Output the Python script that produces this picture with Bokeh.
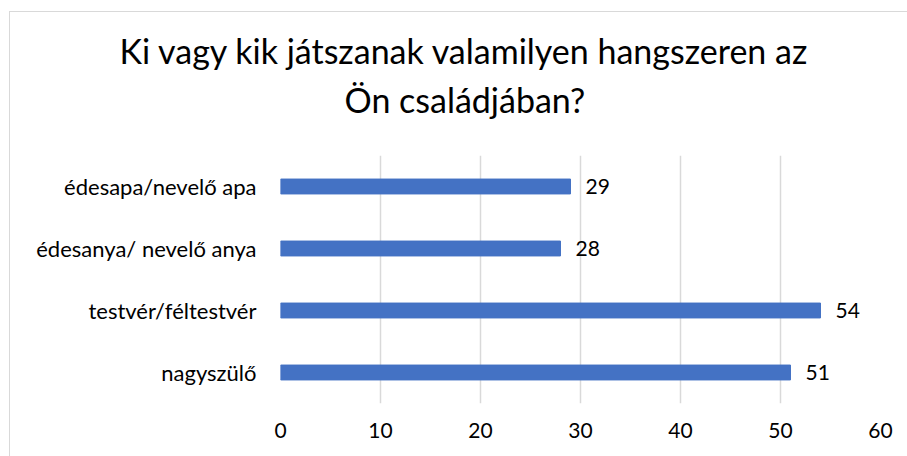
from bokeh.plotting import figure
from bokeh.models import ColumnDataSource, FactorRange, Range1d, LabelSet, Title, FixedTicker
from bokeh.core.properties import value
from bokeh.embed import file_html
from bokeh.resources import INLINE

categories = ["édesapa/nevelő apa", "édesanya/ nevelő anya", "testvér/féltestvér", "nagyszülő"]
values = [29, 28, 54, 51]
x_ticks = [0, 10, 20, 30, 40, 50, 60]
title_lines = ["Ki vagy kik játszanak valamilyen hangszeren az", "Ön családjában?"]

FONT = "Lato"
BAR = "#4472C4"
GRID = "#d9d9d9"
TXT = "#000000"

src = ColumnDataSource(dict(cat=categories, val=values, lab=[str(v) for v in values]))

p = figure(
    y_range=FactorRange(factors=list(reversed(categories)), range_padding=0),
    x_range=Range1d(0, 60),
    frame_width=600, frame_height=248,
    min_border_left=280, min_border_right=27, min_border_top=155, min_border_bottom=53,
    output_backend="svg", toolbar_location=None,
)
# chart-area border (only its left and top edges fall inside the window)
p.styles = {
    "background-color": "white",
    "background-image": "linear-gradient(#d9d9d9, #d9d9d9), linear-gradient(#d9d9d9, #d9d9d9)",
    "background-size": "1px 100%, 100% 1px",
    "background-position": "9px 11px, 9px 11px",
    "background-repeat": "no-repeat",
}
p.outline_line_color = None
p.background_fill_color = "white"
p.border_fill_color = None
p.border_fill_alpha = 0

p.hbar(y="cat", right="val", left=0, height=0.24, source=src, fill_color=BAR, line_color=BAR)

labels = LabelSet(x="val", y="cat", text="lab", source=src, x_offset=15,
                  text_baseline="middle", text_align="left",
                  text_font=value(FONT), text_font_size=value("21px"), text_color=value(TXT))
p.add_layout(labels)

p.xaxis.ticker = FixedTicker(ticks=x_ticks)
p.xaxis.axis_line_color = None
p.xaxis.major_tick_line_color = None
p.xaxis.minor_tick_line_color = None
p.xaxis.major_label_standoff = 13
p.xaxis.major_label_text_font = FONT
p.xaxis.major_label_text_font_size = "21px"
p.xaxis.major_label_text_color = TXT

p.yaxis.axis_line_color = None
p.yaxis.major_tick_line_color = None
p.yaxis.major_label_standoff = 18
p.yaxis.major_label_text_font = FONT
p.yaxis.major_label_text_font_size = "22px"
p.yaxis.major_label_text_color = TXT

p.xgrid.grid_line_color = GRID
p.xgrid.grid_line_width = 1.5
p.ygrid.grid_line_color = None

# spacer between the frame and the title, then the two title lines
p.add_layout(Title(text=" ", standoff=30, text_font_size="1px"), "above")
p.add_layout(Title(text=title_lines[1], align="left", offset=64, standoff=6,
                   text_font=FONT, text_font_size="34px", text_font_style="normal",
                   text_color=TXT), "above")
p.add_layout(Title(text=title_lines[0], align="left", offset=-161, standoff=5,
                   text_font=FONT, text_font_size="34px", text_font_style="normal",
                   text_color=TXT), "above")

open("out.html", "w").write(file_html(p, INLINE))
